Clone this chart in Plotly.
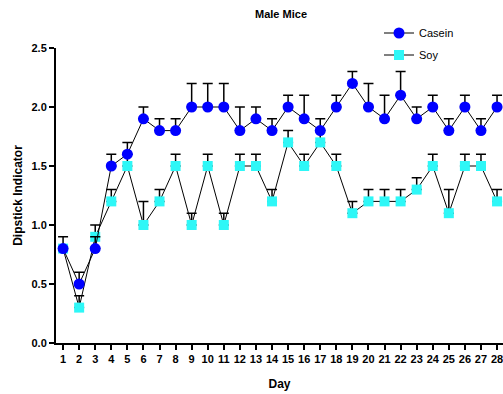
import plotly.graph_objects as go

days = list(range(1, 29))
casein = [0.8, 0.5, 0.8, 1.5, 1.6, 1.9, 1.8, 1.8, 2.0, 2.0, 2.0, 1.8, 1.9, 1.8,
          2.0, 1.9, 1.8, 2.0, 2.2, 2.0, 1.9, 2.1, 1.9, 2.0, 1.8, 2.0, 1.8, 2.0]
casein_err = [0.1, 0.1, 0.1, 0.1, 0.1, 0.1, 0.1, 0.1, 0.2, 0.2, 0.2, 0.2, 0.1, 0.1,
              0.1, 0.2, 0.1, 0.1, 0.1, 0.2, 0.2, 0.2, 0.1, 0.1, 0.1, 0.1, 0.1, 0.1]
soy = [0.8, 0.3, 0.9, 1.2, 1.5, 1.0, 1.2, 1.5, 1.0, 1.5, 1.0, 1.5, 1.5, 1.2,
       1.7, 1.5, 1.7, 1.5, 1.1, 1.2, 1.2, 1.2, 1.3, 1.5, 1.1, 1.5, 1.5, 1.2]
soy_err = [0.0, 0.1, 0.1, 0.1, 0.1, 0.2, 0.1, 0.1, 0.1, 0.1, 0.1, 0.1, 0.1, 0.1,
           0.1, 0.1, 0.1, 0.1, 0.1, 0.1, 0.1, 0.1, 0.1, 0.1, 0.2, 0.1, 0.1, 0.1]
zeros = [0] * len(days)

FONT = "Liberation Sans, Arial, sans-serif"

fig = go.Figure()
fig.add_trace(go.Scatter(
    x=days, y=soy, name="Soy", mode="lines+markers", legendgroup="soy", legendrank=2,
    line=dict(color="black", width=1),
    marker=dict(symbol="square", size=10, color="#2EF7F7"),
    error_y=dict(type="data", array=soy_err, arrayminus=zeros, symmetric=False,
                 color="black", thickness=1.5, width=5),
    cliponaxis=False,
))
fig.add_trace(go.Scatter(
    x=days, y=casein, name="Casein", mode="lines+markers", legendgroup="casein", legendrank=1,
    line=dict(color="black", width=1),
    marker=dict(symbol="circle", size=11, color="#0000FF"),
    error_y=dict(type="data", array=casein_err, arrayminus=zeros, symmetric=False,
                 color="black", thickness=1.5, width=5),
    cliponaxis=False,
))

fig.update_layout(
    width=503, height=394,
    margin=dict(l=56, r=0, t=48, b=51, autoexpand=False),
    paper_bgcolor="white", plot_bgcolor="white",
    font=dict(family=FONT, color="black", size=11),
    title=dict(text="<b>Male Mice</b>", x=0.5587, xanchor="center", yref="container",
               y=0.9645, yanchor="middle", automargin=False,
               font=dict(size=11, family=FONT)),
    showlegend=True,
    legend=dict(x=0.7226, y=1.10, xanchor="left", yanchor="top",
                traceorder="grouped",
                bgcolor="rgba(0,0,0,0)", font=dict(size=11, family=FONT),
                itemwidth=30, tracegroupgap=3),
)
fig.update_xaxes(
    range=[0.56, 28.37], tickmode="array", tickvals=days,
    ticktext=[str(d) for d in days], automargin=False, ticklabeloverflow="allow",
    showgrid=False, zeroline=False, showline=True, linecolor="black", linewidth=2,
    ticks="outside", ticklen=5, tickwidth=1.5, tickcolor="black",
    tickfont=dict(size=11, family=FONT, weight="bold"),
    title=dict(text="<b>Day</b>", font=dict(size=12, family=FONT), standoff=15),
)
fig.update_yaxes(
    range=[0, 2.5], tickvals=[0, 0.5, 1.0, 1.5, 2.0, 2.5], tickformat=".1f",
    automargin=False,
    showgrid=False, zeroline=False, showline=True, linecolor="black", linewidth=2,
    ticks="outside", ticklen=5, tickwidth=1.5, tickcolor="black",
    tickfont=dict(size=11, family=FONT, weight="bold"),
    title=dict(text="<b>Dipstick Indicator</b>", font=dict(size=12, family=FONT), standoff=6),
)

# remove the default 8px page margin so the figure fills the window exactly
fig.write_html("out.html", config={"displayModeBar": False},
               post_script="document.body.style.margin='0';document.body.style.overflow='hidden';")
